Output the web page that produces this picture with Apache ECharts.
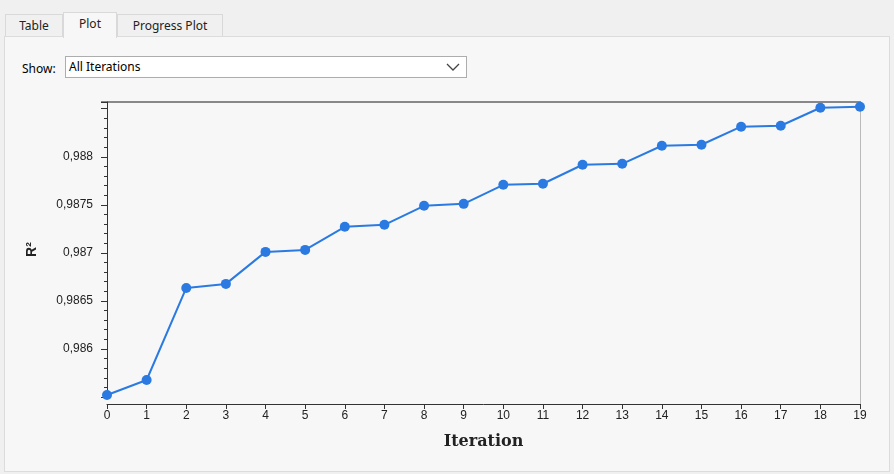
<!DOCTYPE html><html><head><meta charset="utf-8">
<script src="https://cdn.jsdelivr.net/npm/echarts@6/dist/echarts.min.js"></script>
<style>
body{margin:0;width:894px;height:474px;background:#f0f0f0;font-family:"Noto Sans",sans-serif;font-size:12px;position:relative;overflow:hidden}
.tab{position:absolute;top:14px;height:22px;border:1px solid #d9d9d9;border-bottom:none;background:#f0f0f0;line-height:22px;text-align:center;color:#222}
#panel{position:absolute;left:4px;top:36px;width:884px;height:434px;background:#f7f7f7;border:1px solid #dcdcdc}
#frame{position:absolute;left:101px;top:101px;width:760px;height:303px;border-top:2px solid #888;border-right:1px solid #bbb;box-sizing:border-box}
#sel{position:absolute;left:65px;top:56px;width:402px;height:22px;border:1px solid #adadad;background:#fff;box-sizing:border-box;line-height:20px;padding-left:3px}
#c{position:absolute;left:0;top:0;width:894px;height:474px}
</style></head><body>
<div class="tab" style="left:5px;width:56px">Table</div>
<div class="tab" style="left:63px;width:52px;top:12px;height:25px;background:#f7f7f7;z-index:2">Plot</div>
<div class="tab" style="left:117px;width:104px">Progress Plot</div>
<div id="panel"></div>
<div style="position:absolute;left:22px;top:60px">Show:</div>
<div id="sel">All Iterations<svg style="position:absolute;right:6px;top:6px" width="14" height="8"><polyline points="1,1 7,7 13,1" fill="none" stroke="#444" stroke-width="1.3"/></svg></div>
<div id="frame"></div>
<div id="c"></div>
<script>
const iterations=[0,1,2,3,4,5,6,7,8,9,10,11,12,13,14,15,16,17,18,19];
const r2=[0.985521,0.985677,0.986635,0.986677,0.98701,0.987031,0.987271,0.987292,0.98749,0.98751,0.987708,0.987719,0.987917,0.987927,0.988115,0.988125,0.988313,0.988323,0.98851,0.98852];
const ch=echarts.init(document.getElementById('c'));
ch.setOption({animation:false,
grid:{left:107,right:34,top:102,bottom:77},
xAxis:{type:'value',min:0,max:19,interval:1,offset:7,
 name:'Iteration',nameLocation:'middle',nameGap:30,nameTextStyle:{fontFamily:'DejaVu Serif',fontWeight:'bold',fontSize:16,color:'#222'},
 axisLine:{lineStyle:{color:'#333'}},axisTick:{lineStyle:{color:'#333'}},axisLabel:{color:'#222',fontSize:12,margin:6},splitLine:{show:false}},
yAxis:{type:'value',min:0.9855,max:0.98857,interval:0.0005,offset:6,
 name:'R²',nameLocation:'middle',nameGap:62,nameTextStyle:{fontWeight:'bold',fontSize:14,color:'#222'},
 axisLine:{show:true,lineStyle:{color:'#333'}},axisTick:{show:true,length:6,lineStyle:{color:'#333'}},
 minorTick:{show:true,splitNumber:5,length:3,lineStyle:{color:'#333'}},
 axisLabel:{color:'#222',fontSize:12,formatter:v=>(v<0.98551||v>0.98849)?'':String(+v.toFixed(4)).replace('.',',')},
 splitLine:{show:false}},
series:[{type:'line',data:iterations.map((x,i)=>[x,r2[i]]),symbol:'circle',symbolSize:10,
 lineStyle:{color:'#2a7ae2',width:2},itemStyle:{color:'#2a7ae2'}}]});
</script></body></html>
